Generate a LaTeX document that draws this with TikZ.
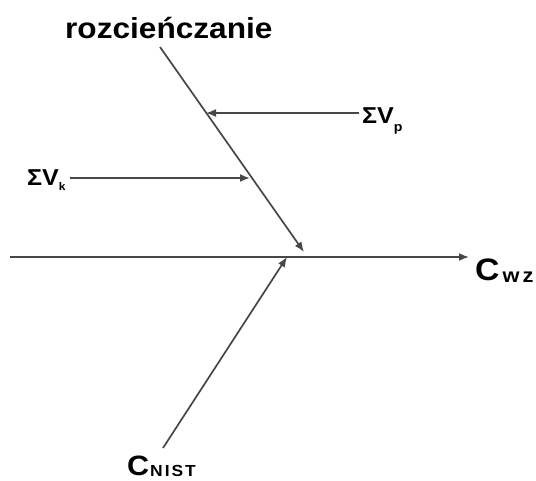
\documentclass[tikz,border=0pt]{standalone}
\usepackage{fontspec}
\setmainfont{Liberation Sans}[FakeStretch=1.09]
\usetikzlibrary{arrows.meta}
\begin{document}
\begin{tikzpicture}[x=1pt,y=-1pt,
  conn/.style={draw=black!72,line width=1.7pt,-{Latex[length=10pt,width=8pt]}},
  lbl/.style={inner sep=0pt,anchor=base west,font=\bfseries}]
\useasboundingbox (0,0) rectangle (536,480);
% labels
\node[lbl,font=\bfseries\fontsize{29}{29}\selectfont] (top) at (65,38) {rozcieńczanie};
\node[lbl,font=\bfseries\fontsize{23}{23}\selectfont] (vp) at (362,123) {ΣV\raisebox{-8pt}{\fontsize{13}{13}\selectfont p}};
\node[lbl,font=\bfseries\fontsize{23}{23}\selectfont] (vk) at (27,185) {ΣV\raisebox{-5pt}{\fontsize{11}{11}\selectfont k}};
\node[lbl,font=\bfseries\fontsize{31}{31}\selectfont] (cwz) at (475,280) {C\raisebox{-2pt}{\fontsize{20}{20}\selectfont\addfontfeature{LetterSpace=15}\hspace{3pt}wz}};
\node[lbl,font=\bfseries\fontsize{28}{28}\selectfont] (cnist) at (127,475) {C\raisebox{-1pt}{\fontsize{16}{16}\selectfont\addfontfeature{LetterSpace=12}\hspace{1pt}NIST}};
% coordinates
\coordinate (dstart) at (160,47);
\coordinate (dtip) at (304,252);
\coordinate (hstart) at (10,257);
\coordinate (hend) at (469,257);
\coordinate (ptip) at (206,113);
\coordinate (ktip) at (250,178);
\coordinate (nstart) at (163,448);
\coordinate (ntip) at (287,257);
% connectors
\draw[conn] (hstart) -- (hend);
\draw[conn] (dstart) -- (dtip);
\draw[conn] (vp.west |- ptip) ++(-3,0) -- (ptip);
\draw[conn] (vk.east |- ktip) ++(4,0) -- (ktip);
\draw[conn] (nstart) -- (ntip);
\end{tikzpicture}
\end{document}
